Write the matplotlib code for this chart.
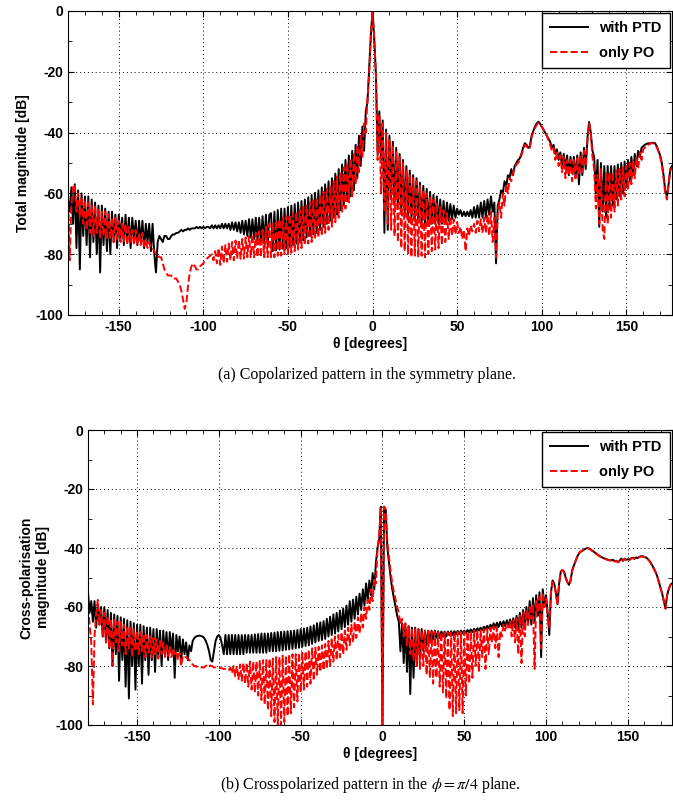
import matplotlib
matplotlib.use("Agg")
from matplotlib import pyplot as plt
from matplotlib.ticker import MultipleLocator
import numpy as np

# angle grid, 1 degree step
theta = np.arange(-180, 178)

# (a) copolarized, with PTD
top_ptd = [
    -62, -66, -58, -70, -57, -78, -59, -85, -60, -74,
    -61, -77, -61, -81, -62, -76, -63, -80, -64, -86,
    -64, -77, -65, -79, -66, -80, -66, -76, -67, -78,
    -67, -75, -68, -77, -67, -76, -68, -78, -68, -75,
    -69, -77, -69, -76, -69, -78, -70, -76, -70, -79,
    -70, -80, -86, -76, -74, -75, -76, -74, -74, -75,
    -75, -74, -73.5, -73.5, -73, -73, -72.5, -72, -72.5, -72,
    -72, -71.5, -72, -71.5, -71.5, -71.5, -71, -71.5, -71, -71.5,
    -71, -71.5, -71, -71, -71.5, -70.5, -71.5, -70.5, -71.5, -70.5,
    -71.5, -70, -71.5, -70, -71.5, -70, -72, -69.5, -72, -69.5,
    -72.5, -69.5, -73, -69, -73.5, -69, -74, -68.5, -74.5, -68.5,
    -75, -68, -75.5, -68, -76, -67.5, -76.5, -67, -77, -67,
    -66.5, -79, -66, -78.8, -65.5, -78.5, -65, -78.2, -65, -78,
    -64.5, -77.5, -64, -77, -63.5, -76.5, -63, -76, -62.5, -75.5,
    -62, -74.5, -61.3, -74, -60.5, -73.5, -59.8, -73, -59, -72,
    -58, -71, -57, -70, -56, -69, -55, -68, -53.5, -67,
    -52, -65.5, -50.5, -64, -49, -62.5, -47.5, -61, -46, -59,
    -44, -55, -41, -51, -38, -46, -33, -30, -19, -8,
    0, -9, -21, -47, -33, -49, -36, -73, -39, -72,
    -41, -62, -43, -64, -45, -65, -47, -66, -49, -67,
    -51, -68, -52.5, -68, -54, -69, -55, -69, -56.5, -70,
    -57.5, -70, -58.5, -70, -59.5, -70, -60.5, -70, -61, -70,
    -62, -70, -62.5, -69.5, -63, -69, -63.5, -68.5, -64, -68,
    -65, -67, -65.5, -67.5, -66, -67.5, -66, -67.5, -65.5, -68,
    -64.5, -68, -64, -68, -63, -68, -62.5, -68, -62, -67,
    -61, -66, -63, -83, -64, -62, -59, -60, -56, -58,
    -54, -55, -52, -54, -51, -50, -49, -48.5, -47, -45,
    -43.5, -44, -45, -44.5, -41, -39.5, -38, -37, -36.4, -37,
    -38, -39, -40, -41, -42, -43, -45, -44, -47, -45.5,
    -49, -46.5, -51, -47, -52, -47.5, -54, -48, -53, -48,
    -55, -47.5, -57, -46.5, -54, -45, -52, -42, -36.5, -40,
    -46, -48, -60, -49, -71, -50, -66, -51, -68, -51,
    -65, -51, -64, -51, -62, -50.5, -61, -50, -60, -49.5,
    -58, -49, -56, -48, -54, -47, -51, -46, -48, -45,
    -44.5, -44, -43.7, -43.5, -43.5, -43.5, -43.3, -43.5, -44.5, -46,
    -47.5, -50, -54, -59, -61, -57, -52, -51,
]

# (a) copolarized, only PO
top_po = [
    -60, -82, -64, -58, -57, -66, -60, -68, -61, -70,
    -62, -72, -63, -73, -64, -74, -64, -73, -65, -75,
    -66, -74, -66, -75, -67, -75, -68, -76, -68, -75,
    -69, -76, -70, -76, -70, -77, -71, -76, -72, -77,
    -72, -77, -73, -77, -73, -78, -75, -78, -76, -78,
    -78, -79, -80, -80, -81, -81, -83, -85, -86, -87,
    -87, -87, -88, -88, -88, -89, -90, -92, -95, -98,
    -96, -90, -86, -84, -83, -84, -85, -85, -84, -83.5,
    -83, -82, -81.5, -81, -80.5, -80, -82, -79, -83, -78,
    -83.5, -77.5, -83, -77, -82.5, -76.5, -82, -76, -82, -75.5,
    -81.5, -75.3, -81.5, -75, -81.5, -74.5, -81, -74, -81, -73.5,
    -81, -73, -81, -72.5, -81, -72, -81, -71, -81, -70,
    -81, -69.5, -81, -69, -80.5, -68.5, -80.5, -68, -80, -67.5,
    -80, -67, -79.5, -66.5, -79, -66, -78.5, -65.5, -78, -64.5,
    -77, -64, -76.5, -63, -76, -62.3, -75, -61.5, -74.5, -60.5,
    -74, -59.5, -73, -58.5, -72, -57.5, -71, -56, -69.5, -54.5,
    -68, -53, -66.5, -51.5, -65, -50, -63, -48.5, -61, -46.5,
    -57, -44, -53, -41, -48, -37, -40, -29, -21, -8,
    0, -9, -21, -49, -34, -60, -37, -66, -40, -70,
    -42, -72, -44, -74, -46, -76, -48, -78, -50, -79,
    -52, -80, -53.5, -81, -55, -80.5, -56, -81, -57.5, -80.5,
    -59, -81, -60, -80, -61, -79, -62, -78.5, -63, -78,
    -64.5, -77, -65.5, -76, -66.5, -75, -67.5, -74, -68.5, -73.5,
    -69.5, -73, -71, -75, -72, -79, -71.5, -74, -70.5, -72.5,
    -70, -73, -69, -72.5, -68.5, -73, -68, -73, -67, -74,
    -66, -76, -68, -81, -66, -63, -68, -60, -64, -57,
    -60, -55, -56, -53, -52, -50.5, -50, -49, -47.5, -45.5,
    -44, -44.5, -45.5, -45, -41.5, -40, -38.5, -37.5, -36.8, -37.2,
    -38, -39, -40, -41, -42.5, -44, -46, -45, -49, -46.5,
    -51, -47.5, -53, -48, -55, -49, -54, -49, -56, -49,
    -55, -48.5, -54, -47.5, -53, -46, -51, -43, -37, -40.5,
    -48, -52, -65, -54, -70, -52, -72, -75, -53, -70,
    -53, -68, -53, -66, -52.5, -64, -52, -62, -51.5, -61,
    -51, -59, -50, -57, -49, -55, -48, -52, -46.5, -49,
    -45.5, -45, -44, -44, -43.7, -43.5, -43.5, -43.7, -44.8, -46.2,
    -48, -50.5, -55, -60, -62, -57, -52.5, -51.5,
]

# (b) crosspolarized, with PTD
bot_ptd = [
    -55, -62, -58, -65, -58, -67, -59, -66, -60, -70,
    -60, -72, -61, -74, -62, -80, -62.5, -76, -63, -85,
    -63.5, -78, -64, -87, -64.5, -91, -65, -80, -65.5, -88,
    -66, -80, -66, -86, -66.5, -78, -67, -83, -67, -78,
    -67.5, -82, -67.5, -77, -68, -80, -68, -76, -68.5, -78,
    -68.5, -75, -69, -84, -69.5, -75, -70, -78, -71, -76,
    -72, -78, -73, -75, -71.5, -70.5, -70, -69.8, -69.7, -69.8,
    -70, -70.5, -71.5, -73, -75, -78, -78.5, -75, -71.5, -70,
    -69.5, -70.5, -73, -76, -69.5, -76, -69.5, -76, -69.5, -76,
    -69.5, -76, -69.5, -76, -69.5, -76, -69.5, -75.5, -69.5, -75.5,
    -69.5, -75.5, -69.3, -75.5, -69.2, -75.5, -69, -75.5, -69, -75.5,
    -69, -75, -68.8, -75, -68.7, -75, -68.5, -74.8, -68.4, -74.7,
    -68.3, -74.5, -68.2, -74.4, -68.1, -74.2, -68, -74, -67.8, -73.8,
    -67.5, -73.5, -67.3, -73.2, -67, -73, -66.6, -72.5, -66.2, -72,
    -65.5, -71.5, -65.2, -71.2, -64.8, -70.8, -64, -70, -63.3, -69.5,
    -62.5, -69, -62, -68.3, -61.2, -67.5, -60.5, -66.8, -59.5, -66,
    -58, -65, -57.5, -64, -56.5, -62.5, -55.5, -61, -54, -59.5,
    -52, -58, -51, -56, -48.5, -54, -45, -40, -37, -26,
    -100, -26, -27, -40, -45, -50, -54, -57, -60, -63,
    -65, -75, -65.5, -79, -66, -82, -66.5, -89.5, -67, -84,
    -67, -80, -67.5, -77, -67.5, -75, -68, -73, -68, -72,
    -68, -71, -68, -70.5, -68.2, -70.5, -68.3, -70, -68.3, -70,
    -68.3, -69.5, -68.2, -69.5, -68.2, -69.3, -68.1, -69.2, -68, -69,
    -68, -68.8, -67.8, -68.6, -67.6, -68.5, -67.4, -68.3, -67.2, -68,
    -67, -67.8, -66.7, -67.5, -66.4, -67.2, -66, -67, -65.5, -67,
    -65.3, -66.8, -65, -66.5, -64.8, -66.5, -64.5, -66.5, -64.2, -66.5,
    -63.8, -67, -63, -68, -62, -67, -61, -66, -60, -66,
    -58, -66, -57, -65, -56, -63, -55, -77, -54, -60,
    -56, -62, -69.5, -55, -51, -52, -55, -59, -52, -48,
    -47.5, -48, -50, -51.5, -52.5, -51, -47.5, -46, -44.5, -43,
    -42, -41.3, -41, -40.6, -40.3, -40, -40.1, -40.4, -40.8, -41.2,
    -41.6, -42, -42.4, -42.8, -43.1, -43.4, -43.6, -43.8, -44, -44.1,
    -44.2, -44, -44.5, -44.3, -44.8, -44.3, -43.6, -44.3, -43.6, -44,
    -43.8, -44, -43.5, -43.3, -43.6, -43.2, -43.4, -43, -42.8, -42.8,
    -43, -43.2, -43.6, -44.2, -45, -46, -47, -48.2, -49.6, -51.5,
    -53.5, -55.5, -58, -60.5, -56, -54, -52.5, -52,
]

# (b) crosspolarized, only PO
bot_po = [
    -60, -66, -72, -93, -70, -62, -57.6, -66, -61, -70,
    -62, -72, -63, -74, -64, -80, -64, -72, -65, -75,
    -65, -73, -66, -76, -66.5, -74, -67, -77, -67.5, -75,
    -68, -76, -68.5, -75, -69, -77, -69.5, -75.5, -70, -77,
    -70.5, -76, -71, -77.5, -71.5, -76, -72, -77, -73, -76.5,
    -73.5, -77, -74, -76, -75, -78, -75.5, -80, -76.5, -77,
    -77, -77.5, -78, -79, -79.5, -80, -80, -80.5, -80.5, -80.5,
    -80.5, -80.5, -80, -79.5, -79.5, -80, -80, -80.5, -80.5, -80.7,
    -80.7, -80.7, -80.8, -81, -81, -81.5, -81.5, -80.5, -82.5, -80,
    -83.5, -80, -84.5, -79.5, -85, -79, -86, -79, -87, -78.5,
    -88, -78.5, -89, -78.5, -90, -78, -91.5, -78, -93, -78,
    -95, -77.5, -97, -77.5, -99, -77, -100, -77, -100, -76.5,
    -99, -76.5, -97, -76, -96, -76, -94, -76, -92, -75.5,
    -89, -75.5, -88, -75, -87, -74.5, -86, -74, -85, -73.8,
    -83, -73.5, -82, -73, -81.5, -72.5, -81, -71.5, -80, -70.5,
    -78.5, -70, -78, -69.5, -77, -68.5, -76, -68, -74.5, -67,
    -73, -66, -72, -65, -70.5, -63.5, -69, -62, -67, -60,
    -64, -57.5, -61, -54, -58, -50, -52, -40, -36, -26,
    -100, -26, -27, -38, -43, -48, -52, -55, -57.5, -60,
    -62, -66, -64, -70, -65.5, -73, -66.5, -76, -67, -78,
    -67.5, -80, -67.5, -81, -68, -80, -68, -83, -68.2, -84,
    -68.3, -86, -68.4, -84, -68.5, -87, -68.5, -89, -68.6, -91,
    -68.6, -95, -68.6, -97, -68.6, -96, -68.5, -95, -68.5, -96,
    -68.4, -90, -68.3, -86, -68.2, -84, -68, -80, -68, -82,
    -67.8, -77, -67.5, -81, -67.3, -76, -67, -72, -66.5, -74,
    -67, -77, -68, -70, -66, -68, -65.5, -67, -65, -70,
    -64.5, -72, -64, -76, -63, -79, -62, -70, -61, -66,
    -60, -64, -59, -81, -58, -62, -56.5, -74, -55, -60,
    -57, -63, -67, -55, -51.5, -52.5, -55.5, -59.3, -52, -48,
    -47.5, -48.3, -50.2, -51.6, -52.5, -51, -47.6, -46, -44.6, -43,
    -42, -41.2, -41, -40.5, -40.2, -40, -40.2, -40.5, -40.9, -41.3,
    -41.7, -42.1, -42.5, -42.9, -43.2, -43.5, -43.7, -43.9, -44.1, -44.2,
    -44.3, -44.1, -44.6, -44.4, -44.9, -44.4, -43.7, -44.4, -43.7, -44.1,
    -43.9, -44.1, -43.6, -43.4, -43.7, -43.3, -43.5, -43.1, -42.9, -42.9,
    -43.1, -43.3, -43.7, -44.3, -45.1, -46.1, -47.1, -48.3, -49.7, -51.6,
    -53.6, -55.6, -58.1, -60.6, -56.1, -54.1, -52.6, -52.1,
]

for arr in (top_ptd, top_po, bot_ptd, bot_po):
    assert len(arr) == len(theta), len(arr)

plt.rcParams['font.family'] = ['Liberation Sans', 'DejaVu Sans']
plt.rcParams['axes.unicode_minus'] = False
plt.rcParams['mathtext.fontset'] = 'stix'

fig = plt.figure(figsize=(6.73, 8.08), dpi=100)
ax1 = fig.add_axes([68/673, 1-315/808, 604/673, 304/808])
ax2 = fig.add_axes([88/673, 1-725/808, 584/673, 295/808])


def style(ax, ylab):
    ax.set_xlim(-180, 177)
    ax.set_ylim(-100, 0)
    ax.xaxis.set_major_locator(MultipleLocator(50))
    ax.xaxis.set_minor_locator(MultipleLocator(10))
    ax.yaxis.set_major_locator(MultipleLocator(20))
    ax.yaxis.set_minor_locator(MultipleLocator(10))
    ax.tick_params(which='both', direction='in', top=True, right=True,
                   labelsize=10)
    ax.tick_params(which='major', length=4)
    ax.tick_params(which='minor', length=3)
    ax.grid(True, which='major', linestyle=(0, (1, 3)), color='black',
            linewidth=0.7)
    for lab in ax.get_xticklabels() + ax.get_yticklabels():
        lab.set_fontweight('bold')
    ax.set_xlabel('θ [degrees]', fontsize=10, fontweight='bold', labelpad=2)
    ax.set_ylabel(ylab, fontsize=10, fontweight='bold')
    ax.legend(loc='upper right', fancybox=False, edgecolor='black',
              framealpha=1, handlelength=2.6, labelspacing=0.75,
              borderpad=0.55, borderaxespad=0.15,
              prop={'weight': 'bold', 'size': 10.5})


ax1.plot(theta, top_ptd, color='black', lw=1.4, label='with PTD')
ax1.plot(theta, top_po, color='red', lw=1.4, ls='--', label='only PO')
style(ax1, 'Total magnitude [dB]')

ax2.plot(theta, bot_ptd, color='black', lw=1.4, label='with PTD')
ax2.plot(theta, bot_po, color='red', lw=1.4, ls='--', label='only PO')
style(ax2, 'Cross-polarisation\nmagnitude [dB]')

fig.text(0.545, 1-375/808, '(a) Copolarized pattern in the symmetry plane.',
         ha='center', va='center', fontsize=11.5,
         family=['Liberation Serif', 'DejaVu Serif'])
fig.text(0.55, 1-785/808,
         r'(b) Crosspolarized pattern in the $\phi = \pi/4$ plane.',
         ha='center', va='center', fontsize=11.5,
         family=['Liberation Serif', 'DejaVu Serif'])

fig.savefig('out.png', dpi=100)
